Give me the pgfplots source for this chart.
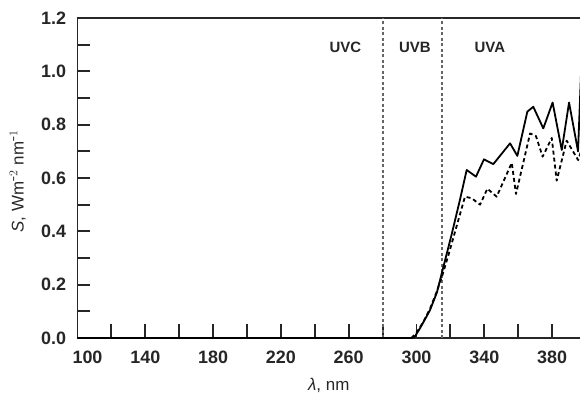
\documentclass[border=0pt]{standalone}
\usepackage{fontspec}
\setmainfont{Liberation Sans}
\usepackage{pgfplots}
\pgfplotsset{compat=1.18}
\begin{document}
\begin{tikzpicture}
\begin{axis}[
  scale only axis,
  width=508.5bp, height=320bp,
  xmin=100, xmax=400, ymin=0, ymax=1.2,
  axis line style={line width=1.8bp, black!85},
  xtick={100,140,...,380},
  xticklabels={\kern20bp 100,140,180,220,260,300,340,380},
  ytick={0,0.2,...,1.21},
  yticklabels={0.0,0.2,0.4,0.6,0.8,1.0,1.2},
  xtick pos=bottom, ytick pos=left,
  tick align=inside,
  major tick length=0pt,
  tick style={draw=none},
  ticklabel style={font=\fontsize{18}{20}\selectfont\bfseries, text=black!85},
  yticklabel style={xshift=-8bp},
  xticklabel style={yshift=-9bp},
  every axis y label/.style={at={(axis description cs:-0.1175,0.49)}, rotate=90, anchor=center},
  every axis x label/.style={at={(axis description cs:0.4941,-0.147)}, anchor=center},
  label style={font=\fontsize{17}{19}\selectfont, text=black!85},
  ylabel={\textit{S}, Wm$^{\textsf{-}2}$ nm$^{\textsf{-}1}$},
  xlabel={\textit{λ}, nm},
  clip=true,
]
% tick marks (inside), drawn as combs
\addplot[ycomb, line width=1.9bp, black!85, mark=none] coordinates {
(120,0.054) (140,0.054) (160,0.054) (180,0.054) (200,0.054) (220,0.054) (240,0.054)
(260,0.054) (280,0.054) (300,0.054) (320,0.054) (340,0.054) (360,0.054) (380,0.054)};
\addplot[xcomb, line width=1.9bp, black!85, mark=none] coordinates {
(107.5,0.1) (107.5,0.2) (107.5,0.3) (107.5,0.4) (107.5,0.5) (107.5,0.6)
(107.5,0.7) (107.5,0.8) (107.5,0.9) (107.5,1.0) (107.5,1.1)};
% region boundaries
\addplot[black!60, line width=1.9bp, dash pattern=on 3bp off 2.5bp] coordinates {(280,0) (280,1.2)};
\addplot[black!60, line width=1.9bp, dash pattern=on 3bp off 2.5bp] coordinates {(315,0) (315,1.2)};
% solid spectrum
\addplot[black, line width=1.8bp, line join=round] coordinates {
(100,0) (297,0) (299,0.005) (302,0.036) (305,0.07) (308,0.105) (312,0.17) (316,0.27)
(320.8,0.39) (325.7,0.52) (329.6,0.63) (335.1,0.605) (339.8,0.67) (345.3,0.652)
(355.2,0.73) (359.5,0.683) (365.4,0.849) (368.9,0.867) (374.8,0.786) (380.3,0.883)
(385.7,0.705) (390,0.883) (395.3,0.70) (398,1.15)
};
% dashed spectrum
\addplot[black, line width=1.8bp, dash pattern=on 4bp off 3bp, line join=round] coordinates {
(297,0) (300,0.02) (304,0.06) (308,0.11) (312,0.175) (315,0.23) (318.8,0.31)
(323.7,0.42) (328.6,0.53) (332.6,0.524) (337.5,0.50) (341.8,0.56) (347.3,0.53)
(356.2,0.657) (358.7,0.54) (367,0.767) (370.5,0.757) (374.4,0.68) (379.8,0.75)
(382.7,0.59) (388.6,0.74) (395.4,0.667) (398,0.72)
};
\node[font=\fontsize{15}{17}\selectfont\bfseries, text=black!85] at (axis cs:258,1.09) {UVC};
\node[font=\fontsize{15}{17}\selectfont\bfseries, text=black!85] at (axis cs:299,1.09) {UVB};
\node[font=\fontsize{15}{17}\selectfont\bfseries, text=black!85] at (axis cs:343.3,1.09) {UVA};
\end{axis}
\pgfresetboundingbox
\useasboundingbox (-77.5bp,-60bp) rectangle (502.5bp,338bp);
\end{tikzpicture}
\end{document}
